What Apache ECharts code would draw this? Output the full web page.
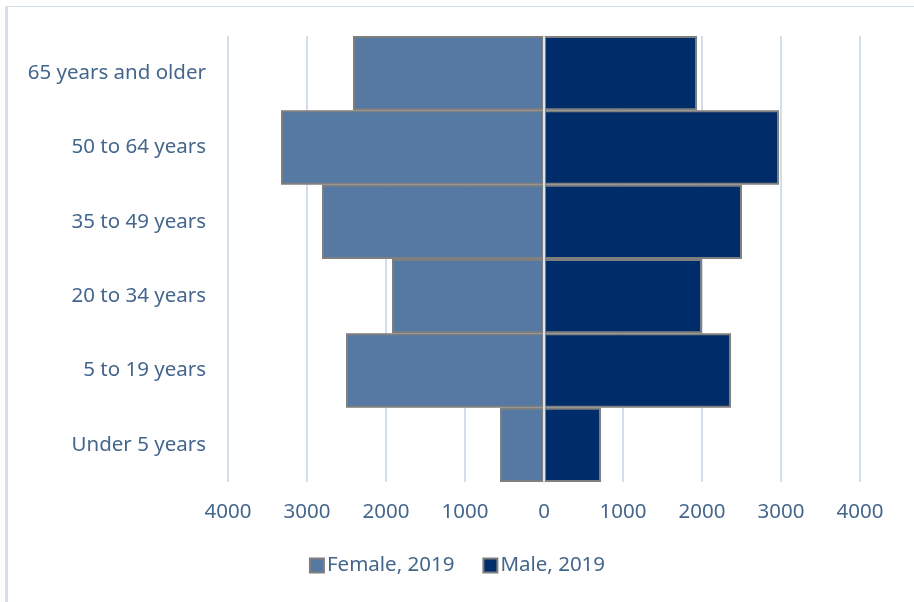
<!DOCTYPE html>
<html>
<head>
<meta charset="utf-8">
<script src="https://cdn.jsdelivr.net/npm/echarts@6/dist/echarts.min.js"></script>
<style>
    html, body { margin: 0; padding: 0; background: #fff; }
    #frame {
        position: absolute; left: 5px; top: 6px; width: 906px; height: 600px;
        border-top: 1px solid #d6e0eb; border-left: 3px solid #d6e0eb; border-right: 1px solid #d6e0eb;
    }
    #chart { position: absolute; left: 0; top: 0; width: 914px; height: 602px; }
</style>
</head>
<body>
<div id="frame"></div>
<div id="chart"></div>
<script>
const ageGroups = ['Under 5 years', '5 to 19 years', '20 to 34 years', '35 to 49 years', '50 to 64 years', '65 years and older'];
const female2019 = [557, 2506, 1924, 2810, 3329, 2418];
const male2019 = [722, 2367, 2000, 2506, 2975, 1937];
const seriesNames = ['Female, 2019', 'Male, 2019'];

const textColor = '#44668c';
const font = 'Noto Sans';

var chart = echarts.init(document.getElementById('chart'));
var option = {
    animation: false,
    grid: { left: 228, right: 54, top: 36, bottom: 120 },
    legend: {
        bottom: 21,
        left: 'center',
        itemWidth: 14,
        itemHeight: 14,
        itemGap: 28,
        icon: 'rect',
        textStyle: { color: textColor, fontSize: 20.5, fontFamily: font, padding: [0, 0, 0, -2] },
        data: seriesNames
    },
    xAxis: {
        type: 'value',
        min: -4000,
        max: 4000,
        interval: 1000,
        axisLine: { show: false },
        axisTick: { show: false },
        axisLabel: {
            color: textColor, fontSize: 20.5, fontFamily: font, margin: 20,
            formatter: function (v) { return Math.abs(v); }
        },
        splitLine: { lineStyle: { color: '#d3deea', width: 2 } }
    },
    yAxis: {
        type: 'category',
        data: ageGroups,
        z: 10,
        axisTick: { show: false },
        axisLine: { show: true, lineStyle: { color: '#dde3ea', width: 2 } },
        axisLabel: { color: textColor, fontSize: 20.5, fontFamily: font, margin: 22 }
    },
    series: [
        {
            name: seriesNames[0],
            type: 'bar',
            stack: 'pop',
            barCategoryGap: 0,
            data: female2019.map(function (v) { return -v; }),
            itemStyle: { color: '#5679a4', borderColor: '#7f7f7f', borderWidth: 2 }
        },
        {
            name: seriesNames[1],
            type: 'bar',
            stack: 'pop',
            barCategoryGap: 0,
            data: male2019,
            itemStyle: { color: '#002d69', borderColor: '#7f7f7f', borderWidth: 2 }
        }
    ]
};
chart.setOption(option);
</script>
</body>
</html>
